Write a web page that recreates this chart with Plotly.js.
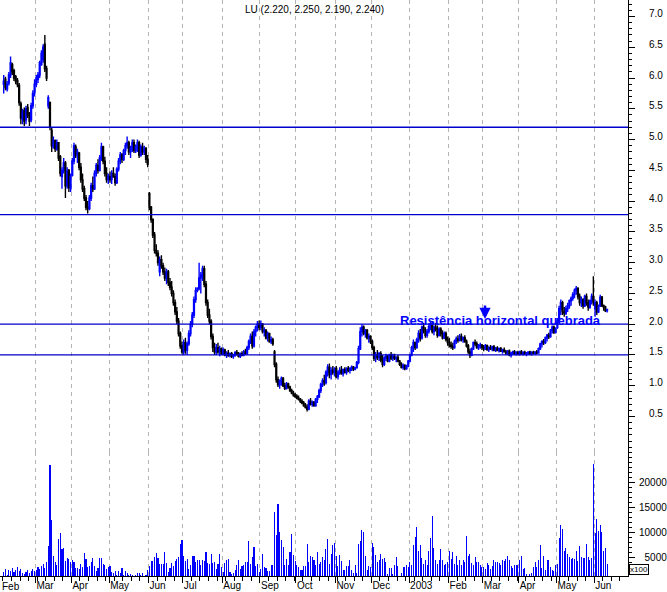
<!DOCTYPE html>
<html>
<head>
<meta charset="utf-8">
<script src="https://cdn.plot.ly/plotly-3.0.1.min.js"></script>
<style>html,body{margin:0;padding:0;background:#fff;}#chart{width:667px;height:592px;}</style>
</head>
<body>
<div id="chart"></div>
<script>
// ---- DATA (one line per month: Feb 2002 ... Jun 2003) ----
const firstDay = '2002-02-04';
const lastDay = '2003-06-11';

const opens = [
5.90,5.98,5.82,5.92,6.05,6.22,6.12,6.02,5.96,5.88,5.58,5.33,5.47,5.32,5.52,5.42,5.32,5.55,5.76,
5.90,5.98,6.05,6.22,6.30,6.55,6.15,5.55,5.60,5.15,4.88,4.98,4.85,4.95,4.72,4.40,4.50,4.62,4.25,4.50,4.20,
4.42,4.65,4.88,4.75,4.78,4.55,4.35,4.20,4.05,3.90,3.88,4.05,4.25,4.20,4.45,4.58,4.50,4.70,4.88,4.65,4.45,4.35,
4.40,4.35,4.45,4.40,4.30,4.52,4.65,4.75,4.68,4.82,4.90,4.95,4.80,4.85,4.95,4.82,4.88,4.95,4.75,4.88,4.80,4.85,4.68,
4.12,3.90,3.70,3.45,3.20,3.15,2.85,3.05,2.95,2.85,2.75,2.85,2.68,2.60,2.50,2.35,2.20,2.05,1.85,1.65,
1.55,1.70,1.58,1.68,1.85,2.00,2.15,2.40,2.55,2.58,2.75,2.80,2.90,2.65,2.35,2.15,2.05,1.80,1.62,1.55,1.62,1.55,1.60,
1.52,1.58,1.50,1.53,1.49,1.52,1.48,1.50,1.54,1.51,1.48,1.52,1.50,1.55,1.53,1.62,1.72,1.80,1.65,1.88,1.95,2.00,
1.95,2.00,1.88,1.90,1.78,1.85,1.72,1.75,1.55,1.35,1.10,1.02,1.08,1.12,1.00,0.96,1.03,0.98,0.92,0.88,0.85,
0.83,0.80,0.78,0.75,0.72,0.68,0.65,0.62,0.75,0.70,0.73,0.68,0.78,0.82,0.92,1.02,1.08,1.05,1.22,1.30,1.18,1.25,1.22,
1.28,1.15,1.22,1.25,1.20,1.26,1.22,1.28,1.25,1.28,1.30,1.27,1.29,1.38,1.60,1.88,1.95,1.85,1.90,1.78,1.80,
1.72,1.62,1.45,1.50,1.46,1.52,1.42,1.35,1.45,1.48,1.40,1.50,1.45,1.48,1.44,1.46,1.40,1.35,1.30,1.33,1.28,1.32,
1.40,1.50,1.62,1.70,1.62,1.75,1.85,1.78,1.95,1.90,1.82,1.88,1.96,2.00,1.88,1.95,1.92,1.82,1.92,1.85,1.78,1.85,1.75,
1.70,1.66,1.64,1.62,1.72,1.76,1.74,1.80,1.75,1.78,1.72,1.65,1.55,1.50,1.60,1.70,1.68,1.62,1.65,1.66,
1.62,1.60,1.65,1.59,1.62,1.60,1.63,1.58,1.61,1.57,1.60,1.56,1.58,1.55,1.53,1.56,1.50,1.53,1.55,1.52,1.54,
1.52,1.55,1.52,1.54,1.51,1.53,1.55,1.52,1.54,1.53,1.55,1.53,1.60,1.68,1.72,1.70,1.78,1.82,1.80,1.90,1.95,1.87,
1.95,2.05,2.25,2.35,2.20,2.18,2.25,2.30,2.38,2.42,2.48,2.55,2.58,2.45,2.35,2.40,2.30,2.45,2.35,2.28,2.38,2.45,
2.25,2.35,2.20,2.30,2.44,2.30,2.28,2.22
];

const highs = [
6.05,6.02,5.95,6.10,6.35,6.25,6.15,6.05,6.00,5.92,5.62,5.50,5.52,5.55,5.58,5.45,5.60,5.80,5.98,
6.05,6.10,6.28,6.45,6.55,6.70,6.20,5.72,5.62,5.20,5.05,5.00,5.00,4.96,4.75,4.55,4.70,4.65,4.55,4.52,4.45,
4.70,4.95,4.92,4.85,4.80,4.62,4.45,4.25,4.10,4.00,4.10,4.30,4.40,4.50,4.62,4.68,4.75,4.95,4.90,4.72,4.55,4.45,
4.48,4.50,4.55,4.45,4.55,4.70,4.80,4.78,4.85,4.95,5.05,4.98,4.90,5.00,5.00,4.92,5.00,4.98,4.92,4.95,4.90,4.88,4.75,
4.15,3.92,3.72,3.50,3.30,3.20,3.10,3.12,3.00,2.92,2.90,2.88,2.75,2.70,2.55,2.40,2.28,2.10,1.88,1.72,
1.75,1.78,1.72,1.90,2.05,2.20,2.45,2.60,2.60,3.00,2.85,2.95,2.95,2.70,2.40,2.25,2.08,1.85,1.70,1.68,1.70,1.65,1.62,
1.62,1.60,1.56,1.58,1.54,1.55,1.52,1.56,1.58,1.55,1.54,1.56,1.58,1.60,1.65,1.75,1.85,1.88,1.92,1.98,2.05,2.06,
2.06,2.02,1.95,1.92,1.88,1.86,1.80,1.78,1.58,1.38,1.15,1.10,1.15,1.14,1.05,1.06,1.05,1.00,0.95,0.92,0.88,
0.86,0.84,0.80,0.78,0.75,0.72,0.70,0.78,0.80,0.76,0.75,0.80,0.85,0.95,1.05,1.12,1.18,1.25,1.35,1.36,1.30,1.32,1.30,
1.32,1.25,1.30,1.32,1.28,1.30,1.30,1.32,1.30,1.33,1.32,1.31,1.40,1.65,1.95,2.00,1.98,1.92,1.92,1.85,1.82,
1.75,1.65,1.55,1.58,1.55,1.56,1.50,1.48,1.52,1.50,1.52,1.55,1.52,1.52,1.48,1.50,1.42,1.38,1.36,1.35,1.34,1.42,
1.52,1.65,1.75,1.72,1.78,1.90,1.92,1.98,2.02,1.95,1.92,2.00,2.05,2.05,1.98,2.02,1.98,1.95,1.95,1.90,1.88,1.88,1.80,
1.78,1.72,1.70,1.75,1.80,1.82,1.84,1.85,1.80,1.82,1.75,1.68,1.60,1.62,1.72,1.75,1.72,1.68,1.70,1.68,
1.66,1.68,1.67,1.64,1.66,1.65,1.66,1.63,1.64,1.62,1.63,1.60,1.62,1.58,1.58,1.59,1.55,1.57,1.58,1.56,1.57,
1.57,1.58,1.56,1.57,1.55,1.56,1.57,1.56,1.57,1.56,1.58,1.62,1.70,1.74,1.76,1.80,1.84,1.86,1.92,1.98,1.98,1.95,
2.10,2.30,2.40,2.38,2.28,2.30,2.35,2.40,2.45,2.52,2.58,2.62,2.60,2.50,2.45,2.42,2.48,2.50,2.40,2.40,2.50,2.78,
2.40,2.38,2.32,2.48,2.46,2.32,2.30,2.25
];

const lows = [
5.75,5.80,5.78,5.88,6.00,6.05,5.95,5.90,5.85,5.55,5.25,5.25,5.22,5.25,5.35,5.22,5.28,5.50,5.70,
5.85,5.92,6.00,6.20,6.25,6.10,5.95,5.50,5.15,4.80,4.85,4.80,4.82,4.65,4.40,4.20,4.45,4.05,4.20,4.15,4.15,
4.40,4.60,4.70,4.62,4.50,4.30,4.15,4.00,3.85,3.80,3.85,4.00,4.15,4.18,4.40,4.45,4.48,4.65,4.60,4.40,4.30,4.28,
4.30,4.28,4.38,4.25,4.28,4.48,4.60,4.62,4.65,4.75,4.85,4.75,4.70,4.80,4.78,4.78,4.80,4.70,4.72,4.75,4.75,4.62,4.55,
3.85,3.65,3.40,3.15,3.10,2.95,2.78,2.90,2.80,2.70,2.65,2.62,2.55,2.45,2.30,2.15,2.00,1.80,1.60,1.52,
1.50,1.52,1.50,1.65,1.80,1.95,2.10,2.35,2.52,2.55,2.50,2.70,2.60,2.30,2.10,2.00,1.75,1.55,1.50,1.50,1.52,1.48,1.50,
1.50,1.48,1.45,1.47,1.46,1.45,1.44,1.47,1.49,1.46,1.45,1.48,1.48,1.50,1.50,1.58,1.68,1.60,1.62,1.80,1.88,1.90,
1.90,1.85,1.80,1.75,1.72,1.70,1.68,1.65,1.30,1.05,0.98,0.95,1.00,0.98,0.93,0.94,0.95,0.90,0.86,0.82,0.80,
0.78,0.76,0.72,0.70,0.66,0.63,0.58,0.60,0.68,0.66,0.66,0.66,0.72,0.80,0.88,0.98,1.00,1.02,1.15,1.12,1.10,1.18,1.15,
1.12,1.10,1.18,1.18,1.15,1.20,1.18,1.22,1.20,1.24,1.24,1.25,1.28,1.35,1.58,1.80,1.82,1.78,1.75,1.70,1.68,
1.58,1.40,1.38,1.42,1.40,1.38,1.30,1.32,1.40,1.38,1.38,1.42,1.40,1.42,1.38,1.38,1.32,1.28,1.26,1.25,1.26,1.30,
1.38,1.48,1.55,1.58,1.60,1.70,1.72,1.75,1.85,1.78,1.78,1.85,1.90,1.85,1.82,1.88,1.78,1.80,1.80,1.75,1.76,1.72,1.65,
1.62,1.60,1.58,1.60,1.68,1.70,1.72,1.72,1.70,1.70,1.62,1.52,1.45,1.48,1.58,1.64,1.60,1.58,1.60,1.58,
1.56,1.58,1.57,1.55,1.58,1.56,1.56,1.55,1.56,1.54,1.55,1.52,1.54,1.50,1.50,1.48,1.46,1.50,1.50,1.49,1.50,
1.49,1.50,1.49,1.50,1.48,1.50,1.50,1.49,1.51,1.50,1.51,1.52,1.58,1.62,1.66,1.68,1.72,1.76,1.78,1.85,1.84,1.85,
1.92,2.00,2.15,2.15,2.12,2.15,2.20,2.25,2.30,2.38,2.42,2.48,2.40,2.30,2.28,2.25,2.28,2.30,2.22,2.25,2.32,2.30,
2.12,2.15,2.18,2.28,2.28,2.22,2.20,2.19
];

const closes = [
5.95,5.85,5.90,6.05,6.25,6.10,6.00,5.95,5.90,5.60,5.35,5.45,5.30,5.50,5.40,5.30,5.55,5.75,5.90,
6.00,6.05,6.25,6.40,6.50,6.15,6.00,5.68,5.20,4.90,4.98,4.85,4.95,4.70,4.45,4.50,4.62,4.25,4.48,4.22,4.40,
4.65,4.90,4.75,4.80,4.55,4.35,4.20,4.05,3.90,3.88,4.05,4.25,4.20,4.45,4.58,4.50,4.70,4.88,4.65,4.45,4.35,4.40,
4.35,4.45,4.40,4.30,4.52,4.65,4.75,4.68,4.82,4.90,4.95,4.80,4.85,4.95,4.82,4.88,4.95,4.75,4.88,4.80,4.85,4.68,4.60,
3.90,3.70,3.45,3.20,3.15,3.00,3.05,2.95,2.85,2.75,2.85,2.68,2.60,2.50,2.35,2.20,2.05,1.85,1.65,1.55,
1.70,1.58,1.68,1.85,2.00,2.15,2.40,2.55,2.58,2.75,2.80,2.90,2.65,2.35,2.15,2.05,1.80,1.62,1.55,1.62,1.55,1.60,1.52,
1.58,1.50,1.53,1.49,1.52,1.48,1.50,1.54,1.51,1.48,1.52,1.50,1.55,1.53,1.62,1.72,1.80,1.65,1.88,1.95,2.00,1.95,
2.00,1.88,1.90,1.78,1.85,1.72,1.75,1.68,1.35,1.10,1.02,1.08,1.12,1.00,0.96,1.03,0.98,0.92,0.88,0.85,0.83,
0.80,0.78,0.75,0.72,0.68,0.65,0.62,0.75,0.70,0.73,0.68,0.78,0.82,0.92,1.02,1.08,1.05,1.22,1.30,1.18,1.25,1.22,1.28,
1.15,1.22,1.25,1.20,1.26,1.22,1.28,1.25,1.28,1.30,1.27,1.29,1.38,1.60,1.88,1.95,1.85,1.90,1.78,1.80,1.72,
1.62,1.45,1.50,1.46,1.52,1.42,1.35,1.45,1.48,1.40,1.50,1.45,1.48,1.44,1.46,1.40,1.35,1.30,1.33,1.28,1.32,1.40,
1.50,1.62,1.70,1.62,1.75,1.85,1.78,1.95,1.90,1.82,1.88,1.96,2.00,1.88,1.95,1.92,1.82,1.92,1.85,1.78,1.85,1.75,1.70,
1.66,1.64,1.62,1.72,1.76,1.74,1.80,1.75,1.78,1.72,1.65,1.55,1.50,1.60,1.70,1.68,1.62,1.65,1.66,1.62,
1.60,1.65,1.59,1.62,1.60,1.63,1.58,1.61,1.57,1.60,1.56,1.58,1.55,1.53,1.56,1.50,1.53,1.55,1.52,1.54,1.52,
1.55,1.52,1.54,1.51,1.53,1.55,1.52,1.54,1.53,1.55,1.53,1.60,1.68,1.72,1.70,1.78,1.82,1.80,1.90,1.95,1.87,1.92,
2.05,2.25,2.35,2.20,2.18,2.25,2.30,2.38,2.42,2.48,2.55,2.58,2.45,2.35,2.40,2.30,2.45,2.35,2.28,2.38,2.45,2.35,
2.35,2.20,2.28,2.44,2.30,2.28,2.22,2.24
];

// volume in hundreds of shares (axis shows "x100")
const volumes = [
2300,2900,1700,2600,2400,3000,2200,2700,3100,2500,2800,2000,1900,2300,2600,2100,2500,2900,2400,
2600,3100,2900,3300,3800,3000,4200,7400,23600,12600,5400,4200,3500,8800,10000,6800,6900,4300,5000,4700,4200,
4600,4200,3000,3000,2900,3800,3200,6000,4700,3100,3400,4100,5000,3300,2400,3000,5000,5000,3800,3600,2900,3200,
3400,2300,2100,2500,1700,2500,2100,3000,1700,2500,2100,1700,1900,1600,1500,1600,2100,2000,1700,2000,1500,1600,2600,
3400,4300,4300,5100,6000,4900,3700,3700,3700,6200,4000,2300,3000,4000,3400,4400,4700,5200,7800,8600,
5300,4400,4800,2900,3600,5300,5300,4200,4600,4600,3500,4600,4400,6200,4000,3700,5800,3900,4200,2800,3700,5700,3100,
2300,4000,4600,4800,2300,1800,2100,2600,3500,4500,2800,3300,3600,4200,4100,8300,3700,5200,7200,3300,3800,2200,
2800,5700,3200,3000,2500,2400,3500,3600,14200,9600,15800,10200,8600,7200,3600,4800,3500,6200,9800,5600,4400,
3600,3100,2700,2600,3400,3300,7800,4200,5300,5200,4500,3500,6200,3800,4200,5200,4600,6800,8700,3800,5700,7600,8000,
5300,3300,5600,4300,2700,2600,3300,3300,4600,2700,2000,3600,2000,7800,8400,10500,10200,5300,2700,3300,3100,
8000,7200,5600,4200,4500,5800,4700,4900,4100,1900,3000,3000,1900,3600,5100,3300,1500,2100,3100,3200,3500,3200,
4200,3500,7600,9200,11200,6300,7600,5000,3700,4600,3500,6300,9000,13400,7000,4600,3800,4600,6700,4600,3500,3800,4200,
6300,4700,6100,3800,5300,3600,4600,3600,4600,4200,9400,5300,5800,3900,3600,5200,4200,4200,3600,3100,
3100,2800,3900,3600,2800,3300,4600,4200,4200,3900,3600,4600,4400,4700,5300,4600,3300,3000,3600,3500,3600,
4600,5300,2800,3000,1800,1500,1800,2100,3200,4100,3200,4600,7600,3000,5400,2600,4600,4600,3200,2700,2400,3600,
3800,9000,11600,10800,6400,7000,5700,5200,4800,5000,4800,6400,4400,7400,5200,5000,4900,7800,5200,4600,5000,23800,
10000,12800,10300,11600,10200,6300,7000,3800
];

// horizontal support / resistance levels
const levels = [5.2, 3.78, 2.0, 1.5];

// axis ticks
const monthTicks = ['2002-03-01','2002-04-01','2002-05-01','2002-06-03','2002-07-01','2002-08-01','2002-09-02',
  '2002-10-01','2002-11-01','2002-12-02','2003-01-01','2003-02-03','2003-03-03','2003-04-01','2003-05-01','2003-06-02'];
const monthLabels = ['Mar','Apr','May','Jun','Jul','Aug','Sep','Oct','Nov','Dec','2003','Feb','Mar','Apr','May','Jun'];
const firstLabel = 'Feb';
const priceTicks = [0.5,1.0,1.5,2.0,2.5,3.0,3.5,4.0,4.5,5.0,5.5,6.0,6.5,7.0];
const volumeTicks = [5000,10000,15000,20000];
const annotationText = 'Resistência horizontal quebrada';
const ticker = 'LU';

// ---- trading days (weekdays) ----
function weekdays(start, end) {
  const out = [];
  const d = new Date(start + 'T00:00:00Z');
  const e = new Date(end + 'T00:00:00Z');
  while (d <= e) {
    const w = d.getUTCDay();
    if (w !== 0 && w !== 6) out.push(d.toISOString().slice(0, 10) + ' 12:00');
    d.setUTCDate(d.getUTCDate() + 1);
  }
  return out;
}
const dates = weekdays(firstDay, lastDay);
[opens, highs, lows, closes, volumes].forEach((a, i) => {
  if (a.length !== dates.length) console.error('length mismatch', i, a.length, dates.length);
});

const BLUE = '#0000ff';
const FONT = 'Liberation Sans, Arial, Helvetica, sans-serif';
const n = closes.length - 1;
const f3 = v => v.toFixed(3);

const traces = [
  {
    type: 'candlestick', x: dates, open: opens, high: highs, low: lows, close: closes,
    xaxis: 'x', yaxis: 'y', whiskerwidth: 0,
    increasing: { line: { color: BLUE, width: 1.4 }, fillcolor: BLUE },
    decreasing: { line: { color: '#000000', width: 1.4 }, fillcolor: '#000000' },
    hoverinfo: 'skip'
  },
  {
    type: 'bar', x: dates, y: volumes, xaxis: 'x', yaxis: 'y2',
    marker: { color: BLUE, line: { width: 0 } }, width: 0.62 * 86400000,
    hoverinfo: 'skip'
  }
];

const figSpace = '\u2007';
const layout = {
  width: 667, height: 592,
  margin: { l: 0, r: 39, t: 0, b: 16, pad: 0 },
  paper_bgcolor: '#ffffff', plot_bgcolor: '#ffffff',
  showlegend: false,
  bargap: 0,
  font: { family: FONT, size: 10, color: '#000000' },
  xaxis: {
    type: 'date', anchor: 'y2',
    range: ['2002-01-31 08:00', '2003-06-27 17:00'],
    rangebreaks: [{ bounds: ['sat', 'mon'] }],
    rangeslider: { visible: false },
    tickvals: monthTicks, ticktext: monthLabels,
    ticklabelposition: 'outside right',
    ticks: 'outside', ticklen: 6, tickcolor: '#000', tickwidth: 1,
    showline: true, linecolor: '#000', linewidth: 1,
    showgrid: true, gridcolor: '#b4b4b4', griddash: '4px,4px', gridwidth: 1,
    minor: { dtick: 7 * 86400000, tick0: '2002-02-04', ticks: 'outside', ticklen: 4, tickcolor: '#000', showgrid: false },
    zeroline: false,
    tickfont: { family: FONT, size: 10, color: '#000' }
  },
  yaxis: {
    domain: [0.216, 1], anchor: 'x', side: 'right',
    range: [-0.07, 7.268],
    tickvals: priceTicks, ticktext: priceTicks.map(v => v.toFixed(1)),
    ticks: 'outside', ticklen: 6, tickcolor: '#000',
    ticklabelstandoff: 12, ticklabelshift: -3,
    minor: { dtick: 0.1, ticks: 'outside', ticklen: 3, tickcolor: '#000', showgrid: false },
    showline: true, linecolor: '#000', linewidth: 1,
    showgrid: false, zeroline: false,
    tickfont: { family: FONT, size: 10, color: '#000' }
  },
  yaxis2: {
    domain: [0, 0.216], anchor: 'x', side: 'right',
    range: [1400, 26280],
    tickvals: volumeTicks, ticktext: volumeTicks.map(v => (v < 10000 ? figSpace : '') + String(v)),
    ticks: 'outside', ticklen: 6, tickcolor: '#000',
    ticklabelstandoff: 2,
    minor: { dtick: 1000, ticks: 'outside', ticklen: 3, tickcolor: '#000', showgrid: false },
    showline: true, linecolor: '#000', linewidth: 1,
    showgrid: false, zeroline: false,
    tickfont: { family: FONT, size: 10, color: '#000' }
  },
  shapes: levels.map(v => ({
    type: 'line', xref: 'paper', x0: 0, x1: 1, yref: 'y', y0: v, y1: v,
    line: { color: '#0000cc', width: 1.3 }, layer: 'above'
  })),
  annotations: [
    { xref: 'paper', yref: 'paper', x: 0.5, y: 1 - 9 / 576, xanchor: 'center', yanchor: 'middle',
      text: `${ticker} (${f3(opens[n])}, ${f3(highs[n])}, ${f3(lows[n])}, ${f3(closes[n])})`,
      showarrow: false, font: { family: FONT, size: 10, color: '#000' } },
    { xref: 'paper', yref: 'paper', x: 500 / 628, y: 1 - 320 / 576, xanchor: 'center', yanchor: 'middle',
      text: '<b>' + annotationText + '</b>', showarrow: false,
      font: { family: FONT, size: 13, color: BLUE } },
    { xref: 'paper', yref: 'paper', x: 485 / 628, y: 1 - 319 / 576, ax: 0, ay: -15, text: '',
      showarrow: true, arrowhead: 2, arrowsize: 0.9, arrowwidth: 2.5, arrowcolor: BLUE },
    { xref: 'paper', yref: 'paper', x: 629 / 628, y: 1 / 576, xanchor: 'left', yanchor: 'bottom',
      text: 'x100', showarrow: false, bordercolor: '#000', borderwidth: 1, borderpad: 0,
      bgcolor: '#fff', font: { family: FONT, size: 8, color: '#000' } },
    { xref: 'paper', yref: 'paper', x: 0, y: -10 / 576, xanchor: 'left', yanchor: 'middle',
      text: firstLabel, showarrow: false, font: { family: FONT, size: 10, color: '#000' } }
  ]
};

Plotly.newPlot('chart', traces, layout, { staticPlot: true, displayModeBar: false });
</script>
</body>
</html>
